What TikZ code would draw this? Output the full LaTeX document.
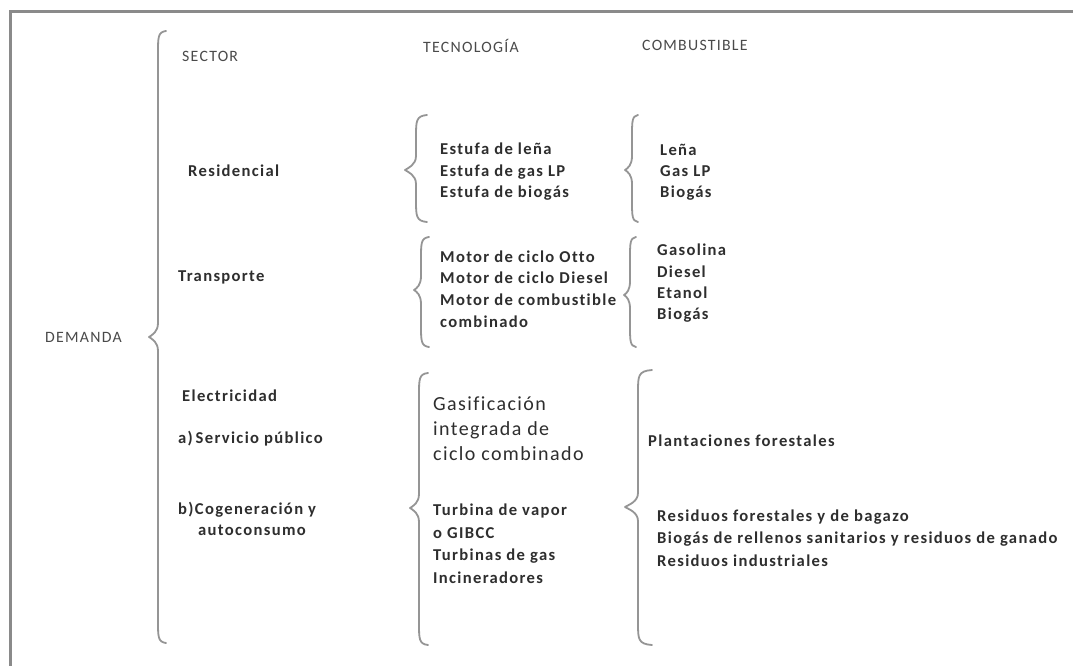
\documentclass[tikz,border=0pt]{standalone}
\usepackage{fontspec}
\setmainfont{Carlito}
\newfontfamily\bodyf{Carlito}[LetterSpace=8,Ligatures={NoCommon}]
\newfontfamily\hdrf{Carlito}[LetterSpace=8,Ligatures={NoCommon}]
\newfontfamily\bigf{Carlito}[LetterSpace=7,Ligatures={NoCommon}]
\definecolor{framec}{HTML}{8A8A8A}
\definecolor{bracec}{HTML}{959595}
\definecolor{txtc}{HTML}{2E2E2E}
\definecolor{hdrc}{HTML}{4A4A4A}
\tikzset{
  txt/.style={anchor=base west, inner sep=0pt, text=txtc, font=\bodyf\bfseries\fontsize{16.6}{21.5}\selectfont},
  hdr/.style={anchor=base west, inner sep=0pt, text=hdrc, font=\hdrf\fontsize{15.8}{18}\selectfont},
  bigtxt/.style={anchor=base west, inner sep=0pt, text=txtc, font=\bigf\fontsize{20}{25}\selectfont},
  brc/.style={draw=bracec, line width=1.8pt, line cap=round, line join=round},
  framel/.style={draw=framec, line width=3pt}
}
% #1 stem x, #2 top y, #3 tip y, #4 bottom y, #5 tip x, #6 curl end x
\newcommand{\curlybr}[6]{%
  \draw[brc] (#6,#2) .. controls (#1,{#2+1}) and (#1,{#2+6}) .. (#1,{#2+22})
    -- (#1,{#3-14}) .. controls (#1,{#3-5}) and ({#5+3},{#3-2}) .. (#5,#3)
    .. controls ({#5+3},{#3+2}) and (#1,{#3+5}) .. (#1,{#3+14})
    -- (#1,{#4-22}) .. controls (#1,{#4-6}) and (#1,{#4-1}) .. (#6,#4);}
\begin{document}
\begin{tikzpicture}[x=1pt,y=-1pt]
\useasboundingbox[fill=white] (0,0) rectangle (1073,666);
% frame (left and top edges)
\draw[framel] (10,666) -- (10,12) -- (1073,12);

% braces
\curlybr{158}{31}{337}{643}{149}{166}
\curlybr{416}{115}{170}{222}{405}{427}
\curlybr{632}{115}{170}{222}{625}{638}
\curlybr{421}{237}{290}{347}{414}{429}
\curlybr{630}{237}{295}{347}{624}{636}
\curlybr{419}{373}{508}{645}{410}{428}
\curlybr{638}{370}{507}{645}{625}{652}

% headers
\node[hdr] (sector) at (182,62) {SECTOR};
\node[hdr] (tecno) at (423,53) {TECNOLOGÍA};
\node[hdr] (combu) at (642,51) {COMBUSTIBLE};
\node[hdr] (demanda) at (45,342) {DEMANDA};

% sectors
\node[txt] (resid) at (188,176) {Residencial};
\node[txt] (transp) at (178,281) {Transporte};
\node[txt] (elec) at (182,401) {Electricidad};
\node[txt] (serv) at (178,443) {a)\,Servicio público};
\node[txt] (cogen) at (178,514) {b)Cogeneración y};
\node[txt] (autoc) at (198,535) {autoconsumo};

% residencial
\node[txt] (t1a) at (440,154) {Estufa de leña};
\node[txt] (t1b) at (440,176) {Estufa de gas LP};
\node[txt] (t1c) at (440,197) {Estufa de biogás};
\node[txt] (c1a) at (660,155) {Leña};
\node[txt] (c1b) at (660,176) {Gas LP};
\node[txt] (c1c) at (660,197) {Biogás};

% transporte
\node[txt] (t2a) at (440,262) {Motor de ciclo Otto};
\node[txt] (t2b) at (440,283) {Motor de ciclo Diesel};
\node[txt] (t2c) at (440,305) {Motor de combustible};
\node[txt] (t2d) at (440,327) {combinado};
\node[txt] (c2a) at (657,255) {Gasolina};
\node[txt] (c2b) at (657,277) {Diesel};
\node[txt] (c2c) at (657,298) {Etanol};
\node[txt] (c2d) at (657,319) {Biogás};

% electricidad
\node[bigtxt] (t3a) at (433,410) {Gasificación};
\node[bigtxt] (t3b) at (433,435) {integrada de};
\node[bigtxt] (t3c) at (433,460) {ciclo combinado};
\node[txt] (t3d) at (433,515) {Turbina de vapor};
\node[txt] (t3e) at (433,538) {o GIBCC};
\node[txt] (t3f) at (433,560) {Turbinas de gas};
\node[txt] (t3g) at (433,583) {Incineradores};
\node[txt] (c3a) at (648,446) {Plantaciones forestales};
\node[txt] (c3b) at (657,521) {Residuos forestales y de bagazo};
\node[txt] (c3c) at (657,543) {Biogás de rellenos sanitarios y residuos de ganado};
\node[txt] (c3d) at (657,566) {Residuos industriales};
\end{tikzpicture}
\end{document}
